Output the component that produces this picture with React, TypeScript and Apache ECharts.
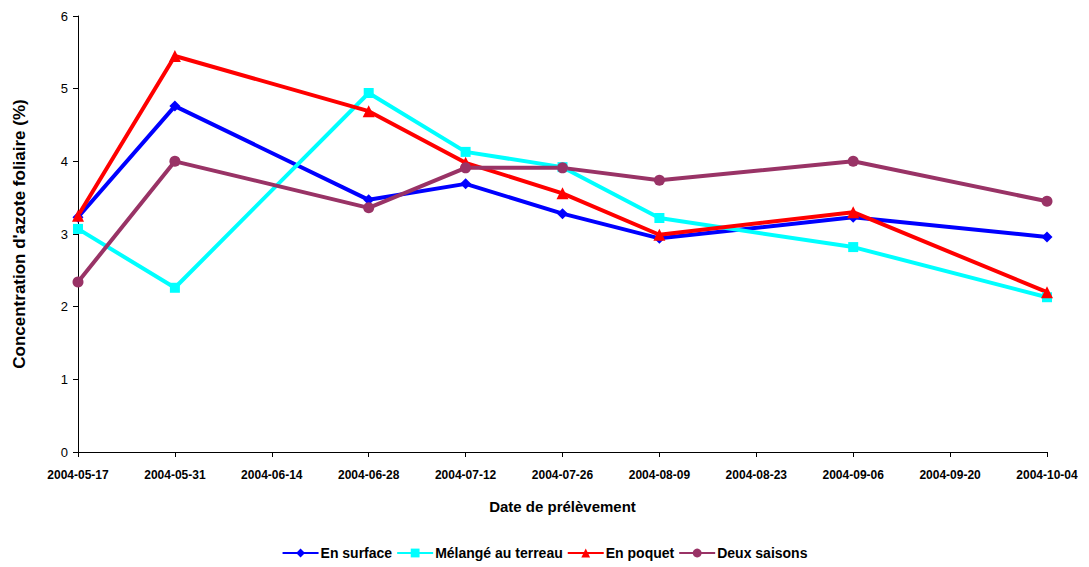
import React, { useEffect, useRef } from "react";
import * as echarts from "echarts";

const startDate = "2004-05-17";
const sampleDates = ["2004-05-17", "2004-05-31", "2004-06-28", "2004-07-12", "2004-07-26", "2004-08-09", "2004-09-06", "2004-10-04"];
const enSurface = [3.23, 4.76, 3.47, 3.69, 3.28, 2.94, 3.23, 2.96];
const melange = [3.07, 2.26, 4.94, 4.13, 3.92, 3.22, 2.82, 2.13];
const enPoquet = [3.25, 5.45, 4.69, 3.98, 3.56, 2.99, 3.30, 2.20];
const deuxSaisons = [2.34, 4.0, 3.36, 3.91, 3.91, 3.74, 4.0, 3.45];
const seriesNames = ["En surface", "Mélangé au terreau", "En poquet", "Deux saisons"];
const seriesColors = ["#0000FF", "#00FFFF", "#FF0000", "#993366"];
const seriesSymbols = ["diamond", "rect", "triangle", "circle"];
const seriesSizes = [11, 10, 12, 11];

const DAY = 86400000;
const toDay = (d: string) => Math.round((Date.parse(d) - Date.parse(startDate)) / DAY);
const fromDay = (n: number) => new Date(Date.parse(startDate) + n * DAY).toISOString().slice(0, 10);

export default function App() {
  const ref = useRef<HTMLDivElement>(null);
  useEffect(() => {
    if (!ref.current) return;
    const chart = echarts.init(ref.current, undefined, { renderer: "svg" });
    const all = [enSurface, melange, enPoquet, deuxSaisons];
    chart.setOption({
      animation: false,
      backgroundColor: "#ffffff",
      textStyle: { fontFamily: "Liberation Sans, Arial, sans-serif" },
      grid: { left: 78, right: 42, top: 16, bottom: 115, containLabel: false },
      xAxis: {
        type: "value",
        min: 0,
        max: 140,
        interval: 14,
        name: "Date de prélèvement",
        nameLocation: "middle",
        nameGap: 47,
        nameTextStyle: { fontSize: 15, fontWeight: "bold", color: "#000" },
        axisLine: { lineStyle: { color: "#000", width: 1 } },
        axisTick: { show: true, inside: false, length: 5, lineStyle: { color: "#000" } },
        axisLabel: { formatter: (v: number) => fromDay(v), fontSize: 12, fontWeight: "bold", color: "#000", margin: 17 },
        splitLine: { show: false },
      },
      yAxis: {
        type: "value",
        min: 0,
        max: 6,
        interval: 1,
        name: "Concentration d'azote foliaire (%)",
        nameLocation: "middle",
        nameGap: 50,
        nameTextStyle: { fontSize: 17, fontWeight: "bold", color: "#000" },
        axisLine: { show: true, lineStyle: { color: "#000", width: 1 } },
        axisTick: { show: true, inside: false, length: 5, lineStyle: { color: "#000" } },
        axisLabel: { fontSize: 13, color: "#000", margin: 10 },
        splitLine: { show: false },
      },
      legend: {
        bottom: 2,
        left: "center",
        itemWidth: 36,
        itemHeight: 11,
        itemGap: 4,
        textStyle: { fontSize: 14, fontWeight: "bold", color: "#000", padding: [0, 0, 0, -3] },
        data: seriesNames,
      },
      series: seriesNames.map((name, i) => ({
        name,
        type: "line",
        data: sampleDates.map((d, j) => [toDay(d), all[i][j]]),
        symbol: seriesSymbols[i],
        symbolSize: seriesSizes[i],
        lineStyle: { color: seriesColors[i], width: 4 },
        itemStyle: { color: seriesColors[i] },
      })),
    });
    return () => chart.dispose();
  }, []);
  return <div ref={ref} style={{ position: "fixed", left: 0, top: 0, width: 1089, height: 567 }} />;
}
